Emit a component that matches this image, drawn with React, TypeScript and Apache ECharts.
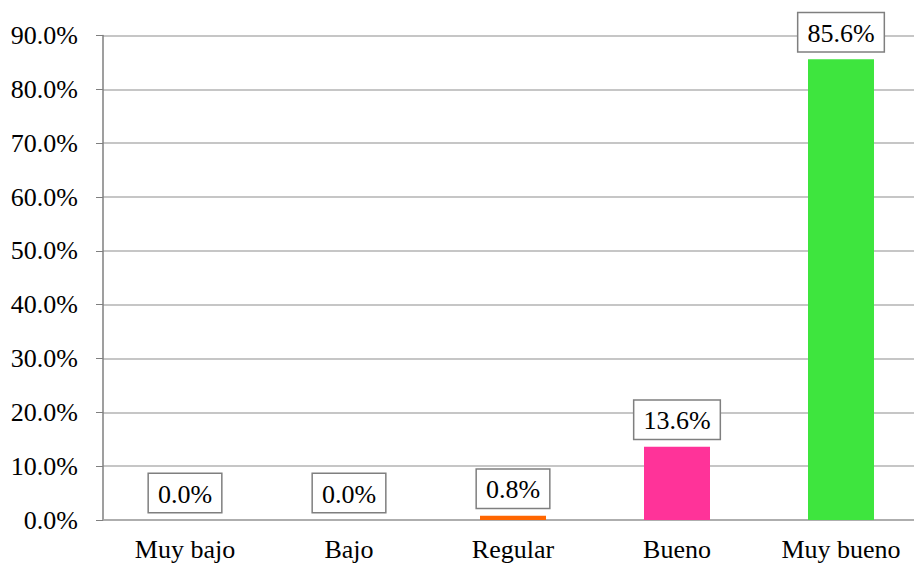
import React, { useEffect, useRef } from "react";
import * as echarts from "echarts";

const categories = ["Muy bajo", "Bajo", "Regular", "Bueno", "Muy bueno"];
const values = [0.0, 0.0, 0.8, 13.6, 85.6];
const barColors = ["#4472C4", "#A5A5A5", "#FF6600", "#FF3399", "#3EE53E"];

export default function App() {
  const ref = useRef<HTMLDivElement>(null);
  useEffect(() => {
    const chart = echarts.init(ref.current!, null, { renderer: "svg" });
    const font = "Liberation Serif";
    chart.setOption({
      animation: false,
      textStyle: { fontFamily: font },
      grid: {
        left: 103,
        top: 35.5,
        width: 820,
        height: 484.5,
        containLabel: false,
        outerBoundsMode: "none",
      },
      xAxis: {
        type: "category",
        data: categories,
        axisLine: { lineStyle: { color: "#a6a6a6", width: 1.5 } },
        axisTick: { show: false },
        axisLabel: { color: "#000", fontFamily: font, fontSize: 26, margin: 16, interval: 0 },
      },
      yAxis: {
        type: "value",
        min: 0,
        max: 90,
        interval: 10,
        axisLine: { show: true, lineStyle: { color: "#7f7f7f", width: 1.5 } },
        axisTick: { show: true, length: 7, lineStyle: { color: "#7f7f7f" } },
        splitLine: { lineStyle: { color: "#b3b3b3", width: 1.5 } },
        axisLabel: {
          color: "#000",
          fontFamily: font,
          fontSize: 26,
          margin: 25,
          formatter: (v: number) => v.toFixed(1) + "%",
        },
      },
      series: [
        {
          type: "bar",
          barWidth: 66,
          data: values.map((v, i) => ({ value: v, itemStyle: { color: barColors[i] } })),
          label: {
            show: true,
            position: "top",
            distance: 8,
            color: "#000",
            fontFamily: font,
            fontSize: 26,
            formatter: (p: any) => p.value.toFixed(1) + "%",
            backgroundColor: "#fff",
            borderColor: "#7f7f7f",
            borderWidth: 1.5,
            padding: [7, 9, 5, 9],
          },
        },
      ],
    });
    return () => chart.dispose();
  }, []);
  return <div ref={ref} style={{ width: 914, height: 566, position: "absolute", left: 0, top: 0 }} />;
}
